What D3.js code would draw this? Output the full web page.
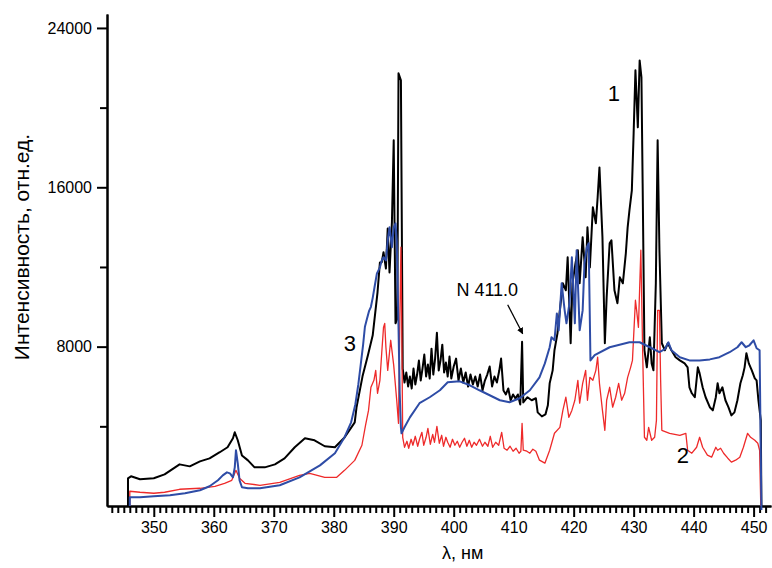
<!DOCTYPE html>
<html>
<head>
<meta charset="utf-8">
<script src="https://cdn.jsdelivr.net/npm/d3@7"></script>
<style>
  body { margin: 0; background: #fff; }
  svg { display: block; }
  .axis text { font-family: "Liberation Sans", Arial, sans-serif; font-size: 16px; fill: #000; }
  .axis path, .axis line { stroke: #000; stroke-width: 2; }
</style>
</head>
<body>
<script>
const width = 772;
const height = 568;
const plot = { left: 107, right: 771, top: 14, bottom: 506 };

// x range of the frame, nm
const xDomain = [342.2, 452.9];
const yDomain = [0, 24700];
const xMajorTicks = [350, 360, 370, 380, 390, 400, 410, 420, 430, 440, 450];
const yMajorTicks = [8000, 16000, 24000];
const yMinorTicks = [4000, 12000, 20000];

// curve 1 (black): [nm, intensity]
const curve1 = [
  [345.7, 0], [345.7, 1390], [346.2, 1490], [347.7, 1340], [350.0, 1390], [351.8, 1590],
  [354.3, 2090], [356.0, 1990], [357.7, 2240], [359.3, 2390], [361.0, 2700], [362.3, 2950],
  [363.2, 3400], [363.5, 3700], [364.0, 3300], [364.7, 2540], [365.7, 2290], [366.8, 1940],
  [368.5, 1940], [370.2, 2090], [371.8, 2390], [373.5, 2950], [375.2, 3400], [376.8, 3300],
  [378.5, 3000], [380.2, 2950], [381.8, 3440], [383.5, 4200], [383.8, 4950], [384.8, 6510],
  [385.7, 7570], [386.5, 8570], [387.3, 10730], [387.7, 12230], [388.0, 12230], [388.3, 12740],
  [388.7, 11920], [389.0, 13930], [389.3, 11720], [389.7, 14240], [390.0, 18360], [390.3, 9170],
  [390.6, 9420], [390.8, 21720], [391.2, 21370], [391.5, 6900], [391.8, 6200], [392.1, 6700],
  [392.4, 6000], [392.7, 6500], [393.0, 5900], [393.3, 6900], [393.6, 6100], [393.9, 6600],
  [394.2, 7300], [394.5, 6300], [394.8, 6900], [395.1, 7600], [395.4, 6500], [395.7, 7100],
  [396.0, 6400], [396.3, 7900], [396.6, 6600], [396.9, 7400], [397.2, 8700], [397.5, 6800],
  [397.8, 7300], [398.1, 8100], [398.4, 6700], [398.7, 7200], [399.0, 6500], [399.3, 7500],
  [399.6, 6400], [400.0, 7000], [400.4, 7400], [400.8, 6300], [401.2, 6900], [401.6, 6200],
  [402.0, 6700], [402.4, 6000], [402.8, 6600], [403.2, 6100], [403.6, 6500], [404.0, 6000],
  [404.4, 6600], [404.8, 5800], [405.2, 6300], [405.6, 6600], [406.0, 7000], [406.4, 6000],
  [406.8, 6500], [407.2, 6200], [407.6, 6800], [407.9, 7400], [408.3, 5800], [408.7, 5600],
  [409.1, 5900], [409.5, 5300], [409.9, 5600], [410.3, 5400], [410.7, 5600], [411.1, 5100],
  [411.4, 8250], [411.6, 5200], [412.3, 5460], [413.0, 5310], [413.7, 5410], [414.0, 4700],
  [414.7, 4500], [415.3, 4600], [415.7, 5060],
  [416.0, 6160], [416.5, 6810], [416.8, 7820], [417.3, 8670], [417.7, 9820], [418.2, 11180],
  [418.7, 10830], [419.0, 12490], [419.5, 8170], [419.8, 11180], [420.3, 12180], [420.7, 12840],
  [421.0, 11180], [421.5, 13490], [422.0, 11480], [422.3, 13990], [422.7, 11980], [423.2, 15000],
  [423.7, 14190], [424.0, 15500], [424.3, 17000], [424.8, 13490], [425.2, 8170], [425.5, 10480],
  [426.0, 13190], [426.3, 13340], [426.8, 10830], [427.3, 10180], [427.7, 11480], [428.2, 11180],
  [428.7, 12690], [429.0, 13990], [429.3, 14840], [429.7, 15850], [430.0, 18710], [430.3, 21870],
  [430.7, 19010], [431.0, 22370], [431.3, 21520], [431.5, 16200], [431.8, 7820], [432.2, 6960],
  [432.7, 8470], [433.0, 7160], [433.3, 6810], [433.7, 11180], [434.0, 18360], [434.3, 12840],
  [434.7, 8170], [435.2, 7820], [435.7, 8170], [436.3, 7820], [437.0, 7470], [437.7, 7310],
  [438.5, 7160], [439.0, 6960], [439.3, 5960], [439.7, 5660], [440.2, 5460], [440.7, 6960],
  [441.0, 6660], [441.5, 5960], [442.0, 5460], [442.7, 4960], [443.2, 4800], [443.7, 5460],
  [444.0, 6160], [444.3, 5660], [444.8, 5960], [445.3, 5310], [445.8, 4960], [446.3, 4550],
  [446.8, 4700], [447.3, 5310], [447.8, 6160], [448.2, 6560], [448.5, 6960], [448.8, 7670],
  [449.2, 7160], [449.7, 6810], [450.2, 6410], [450.5, 6310], [450.8, 5310], [451.2, 4300],
  [451.3, 0]
];

// curve 2 (red)
const curve2 = [
  [346.0, 0], [346.0, 740], [347.7, 690], [350.0, 640], [351.8, 690], [354.3, 840],
  [357.7, 890], [360.2, 990], [361.8, 1140], [363.0, 1290], [363.7, 1790], [364.3, 1390],
  [365.2, 1140], [367.7, 1040], [371.0, 1190], [374.3, 1540], [376.0, 1640], [378.5, 1440],
  [380.5, 1440], [381.8, 1790], [383.5, 2290], [384.7, 3050], [385.3, 4050], [385.8, 4800],
  [386.2, 5960], [386.7, 6310], [387.0, 6810], [387.3, 5660], [387.7, 6310], [388.0, 7670],
  [388.3, 8970], [388.5, 9170], [388.7, 7970], [389.0, 6810], [389.5, 8320], [390.0, 7060],
  [390.5, 5310], [390.8, 4150], [391.0, 8820], [391.2, 12990], [391.3, 10330], [391.5, 3450],
  [391.8, 2950], [392.2, 3250], [392.5, 2900], [392.9, 3350], [393.2, 3050], [393.6, 3500],
  [394.0, 3000], [394.3, 3350], [394.7, 3700], [395.0, 3050], [395.4, 3450], [395.7, 3900],
  [396.1, 3100], [396.5, 3600], [396.8, 3200], [397.2, 4000], [397.6, 3150], [398.0, 3550],
  [398.3, 3000], [398.7, 3450], [399.0, 3200], [399.4, 2950], [399.8, 3350], [400.2, 3050],
  [400.6, 3250], [401.0, 2950], [401.4, 3200], [401.8, 3400], [402.2, 3000], [402.6, 3300],
  [403.0, 2950], [403.4, 3200], [403.8, 3050], [404.3, 3350], [404.8, 3000], [405.2, 3200],
  [405.7, 3000], [406.1, 3500], [406.5, 2950], [407.0, 3200], [407.5, 3050], [408.0, 3700],
  [408.4, 2900], [408.9, 2800], [409.4, 3000], [409.9, 2750], [410.4, 2900], [410.9, 2650],
  [411.2, 2750], [411.4, 4150], [411.6, 2800], [412.2, 2750], [412.7, 2650], [413.2, 2850],
  [413.7, 2750], [414.3, 2300], [415.2, 2150],
  [416.0, 2800], [416.8, 3650], [417.7, 3950], [418.2, 4800], [418.7, 5460], [419.2, 4450],
  [419.7, 4800], [420.2, 5310], [420.7, 6310], [421.0, 5160], [421.5, 6160], [422.0, 6810],
  [422.3, 5310], [422.7, 6460], [423.2, 6310], [423.7, 6810], [424.0, 7470], [424.3, 6160],
  [424.8, 4800], [425.2, 3800], [425.5, 5310], [426.0, 5960], [426.5, 4960], [427.0, 5460],
  [427.5, 6160], [428.0, 5310], [428.5, 5660], [429.0, 6460], [429.5, 6960], [429.8, 7310],
  [430.3, 10330], [430.5, 9820], [430.8, 8970], [431.2, 12840], [431.5, 7820], [431.8, 3450],
  [432.2, 3300], [432.5, 3950], [433.0, 3300], [433.5, 3450], [433.8, 4300], [434.0, 9820],
  [434.3, 9820], [434.5, 6310], [434.7, 3800], [436.0, 3650], [437.7, 3550], [438.7, 3650],
  [439.0, 2800], [439.7, 2650], [440.5, 2950], [441.0, 3450], [441.5, 2950], [442.3, 2550],
  [443.0, 2450], [443.7, 2950], [444.0, 2800], [444.5, 2900], [445.0, 2650], [445.7, 2400],
  [446.3, 2200], [447.0, 2300], [447.7, 2450], [448.3, 2950], [449.0, 3650], [449.5, 3450],
  [450.2, 3300], [450.7, 3150], [451.0, 2800], [451.2, 0]
];

// curve 3 (blue)
const curve3 = [
  [346.0, 0], [346.0, 440], [347.7, 440], [350.0, 490], [352.7, 540], [355.2, 640],
  [357.7, 790], [359.3, 990], [360.7, 1290], [361.5, 1540], [362.2, 1690], [362.7, 1640],
  [363.2, 1440], [363.5, 1940], [363.7, 2800], [364.0, 2140], [364.3, 1290], [364.7, 940],
  [365.7, 890], [367.7, 890], [371.0, 1040], [374.3, 1440], [377.7, 2040], [380.2, 2650],
  [381.8, 3450], [382.9, 4200], [383.6, 5100], [384.1, 6100], [384.5, 7100], [384.9, 8100],
  [385.2, 9000], [385.5, 9350], [385.9, 9800], [386.2, 10000], [386.5, 10450], [386.8, 10980],
  [387.2, 11680], [387.7, 11980], [388.0, 12330], [388.3, 12490], [388.7, 12330], [389.0, 13340],
  [389.3, 13990], [389.7, 12990], [390.0, 13990], [390.3, 14190], [390.5, 13340], [390.8, 8970],
  [391.0, 5660], [391.2, 3950], [391.3, 3650], [391.8, 3950], [392.7, 4450], [394.3, 5160],
  [396.0, 5460], [397.7, 5810], [399.0, 6210], [401.0, 6260], [402.7, 6060], [404.3, 5810],
  [406.0, 5560], [407.7, 5310], [409.3, 5210], [411.0, 5410], [412.7, 5810], [414.3, 6460],
  [415.2, 7160], [416.0, 7970], [416.3, 8470], [416.8, 8320], [417.2, 9670], [417.5, 8820],
  [418.0, 11180], [418.5, 9820], [418.8, 9170], [419.3, 10180], [419.7, 12490], [420.2, 9170],
  [420.5, 12840], [421.0, 8820], [421.5, 9820], [421.8, 12180], [422.2, 12990], [422.5, 13190],
  [422.7, 9320], [422.8, 7310], [423.5, 7570], [426.0, 7970], [429.3, 8220], [431.0, 8220],
  [432.7, 7970], [434.3, 7720], [435.2, 7870], [435.8, 8220], [436.3, 7820], [437.7, 7470],
  [439.3, 7310], [441.0, 7310], [442.7, 7360], [444.3, 7470], [446.0, 7720], [447.3, 7970],
  [448.0, 8220], [448.7, 7970], [449.3, 8070], [450.0, 8320], [450.5, 7920], [451.0, 7820],
  [451.3, -200]
];

// curve numbers and where they sit, [nm, intensity]
const curveLabels = [
  { text: "1", x: 426.7, y: 20600 },
  { text: "2", x: 438.2, y: 2450 },
  { text: "3", x: 382.7, y: 8050 }
];

const svg = d3
  .select("body")
  .append("svg")
  .attr("width", width)
  .attr("height", height)
  .attr("viewBox", `0 0 ${width} ${height}`);

const xScale = d3.scaleLinear().domain(xDomain).range([plot.left, plot.right]);
const yScale = d3.scaleLinear().domain(yDomain).range([plot.bottom, plot.top]);

const line = d3
  .line()
  .x((d) => xScale(d[0]))
  .y((d) => yScale(d[1]));

// x minor ticks, every 1 nm
const xMinor = d3.range(343, 453, 1).filter((v) => v % 10 !== 0);
svg
  .append("g")
  .attr("class", "axis")
  .attr("transform", `translate(0,${plot.bottom})`)
  .call(d3.axisBottom(xScale).tickValues(xMinor).tickSize(7).tickSizeOuter(0).tickFormat(""));

// x axis with major ticks
svg
  .append("g")
  .attr("class", "axis")
  .attr("transform", `translate(0,${plot.bottom})`)
  .call(d3.axisBottom(xScale).tickValues(xMajorTicks).tickSize(11).tickSizeOuter(0).tickPadding(5))
  .selectAll("text")
  .attr("font-size", "17px");

// y minor ticks
svg
  .append("g")
  .attr("class", "axis")
  .attr("transform", `translate(${plot.left},0)`)
  .call(d3.axisLeft(yScale).tickValues(yMinorTicks).tickSize(7).tickSizeOuter(0).tickFormat(""));

// y axis
svg
  .append("g")
  .attr("class", "axis")
  .attr("transform", `translate(${plot.left},0)`)
  .call(d3.axisLeft(yScale).tickValues(yMajorTicks).tickSize(10).tickSizeOuter(0).tickPadding(5).tickFormat(d3.format("d")))
  .selectAll("text")
  .attr("font-size", "17px");

// spectra
svg
  .append("path")
  .datum(curve1)
  .attr("d", line)
  .attr("fill", "none")
  .attr("stroke", "#000")
  .attr("stroke-width", 2)
  .attr("stroke-linejoin", "round");

svg
  .append("path")
  .datum(curve2)
  .attr("d", line)
  .attr("fill", "none")
  .attr("stroke", "#ee2a2a")
  .attr("stroke-width", 1.3)
  .attr("stroke-linejoin", "round");

svg
  .append("path")
  .datum(curve3)
  .attr("d", line)
  .attr("fill", "none")
  .attr("stroke", "#2e4ca6")
  .attr("stroke-width", 2)
  .attr("stroke-linejoin", "round");

// curve numbers
svg
  .selectAll(".curve-label")
  .data(curveLabels)
  .enter()
  .append("text")
  .attr("class", "curve-label")
  .attr("x", (d) => xScale(d.x))
  .attr("y", (d) => yScale(d.y))
  .attr("font-family", "Liberation Sans, Arial, sans-serif")
  .attr("font-size", "22px")
  .attr("text-anchor", "middle")
  .attr("dominant-baseline", "middle")
  .text((d) => d.text);

// N 411.0 annotation with arrow
svg
  .append("defs")
  .append("marker")
  .attr("id", "arrow")
  .attr("viewBox", "0 0 10 10")
  .attr("refX", 9)
  .attr("refY", 5)
  .attr("markerWidth", 5)
  .attr("markerHeight", 5)
  .attr("orient", "auto")
  .append("path")
  .attr("d", "M0,0 L10,5 L0,10 z")
  .attr("fill", "#000");

svg
  .append("text")
  .attr("x", xScale(405.6))
  .attr("y", yScale(10550))
  .attr("font-family", "Liberation Sans, Arial, sans-serif")
  .attr("font-size", "18px")
  .attr("text-anchor", "middle")
  .text("N 411.0");

svg
  .append("line")
  .attr("x1", xScale(409.0))
  .attr("y1", yScale(10100))
  .attr("x2", xScale(411.5))
  .attr("y2", yScale(8650))
  .attr("stroke", "#000")
  .attr("stroke-width", 1.3)
  .attr("marker-end", "url(#arrow)");

// axis titles
svg
  .append("text")
  .attr("transform", "translate(29,247) rotate(-90)")
  .attr("font-family", "Liberation Sans, Arial, sans-serif")
  .attr("font-size", "21px")
  .attr("text-anchor", "middle")
  .text("Интенсивность, отн.ед.");

svg
  .append("text")
  .attr("x", xScale(401.5))
  .attr("y", 559)
  .attr("font-family", "Liberation Sans, Arial, sans-serif")
  .attr("font-size", "18px")
  .attr("text-anchor", "middle")
  .text("λ, нм");
</script>
</body>
</html>
